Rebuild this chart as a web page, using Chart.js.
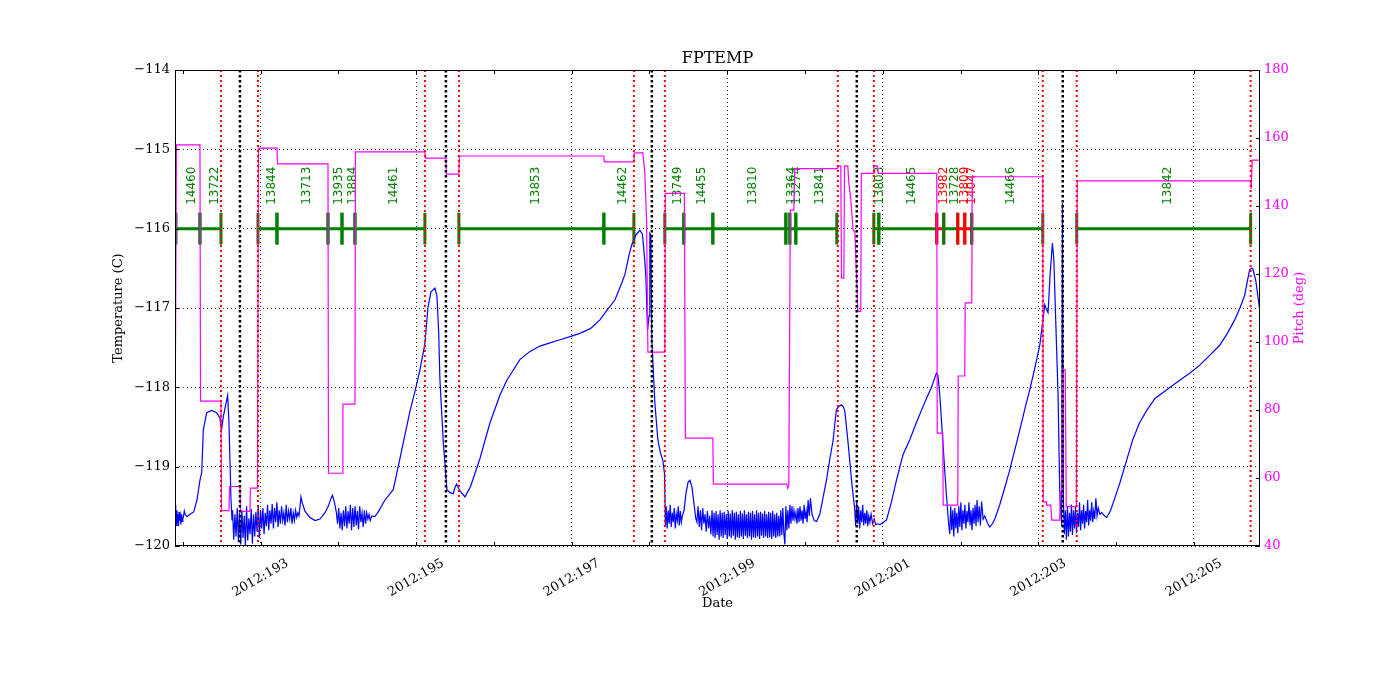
<!DOCTYPE html>
<html>
<head>
<meta charset="utf-8">
<script src="https://cdn.jsdelivr.net/npm/chart.js@4.4.0/dist/chart.umd.min.js"></script>
<style>
  html, body { margin: 0; padding: 0; background: #fff; }
</style>
</head>
<body>
<canvas id="fptemp-chart" width="1400" height="700"></canvas>
<script>
// axis ticks
const xTickDays = [193, 195, 197, 199, 201, 203, 205];
const xTickLabels = ['2012:193', '2012:195', '2012:197', '2012:199', '2012:201', '2012:203', '2012:205'];
const tempTicks = [-120, -119, -118, -117, -116, -115, -114];
const pitchTicks = [40, 60, 80, 100, 120, 140, 160, 180];

// radiation zone edges (red) and perigee times (black), day of year
const radZoneEdges = [192.491, 192.967, 195.113, 195.550, 197.800, 198.198, 200.422, 200.885, 203.057, 203.494, 205.730];
const perigeeTimes = [192.735, 195.383, 198.031, 200.666, 203.314];

// observations
const obsids = ['14460', '13722', '13844', '13713', '13935', '13884', '14461', '13853', '14462', '13749', '14455', '13810',
  '13364', '13274', '13841', '13803', '14465', '13982', '13728', '13809', '14047', '14466', '13842'];
const obsidStart = [191.913, 192.221, 192.967, 193.211, 193.867, 194.047, 194.214, 195.550, 197.414, 198.198, 198.442, 198.815,
  199.754, 199.805, 199.882, 200.885, 200.949, 201.694, 201.784, 201.964, 202.054, 202.144, 203.494];
const obsidStop = [192.221, 192.491, 193.211, 193.867, 194.047, 194.214, 195.113, 197.414, 197.800, 198.442, 198.815, 199.754,
  199.805, 199.882, 200.409, 200.949, 201.694, 201.784, 201.964, 202.054, 202.144, 203.057, 205.730];
const flaggedObsids = ['13982', '13809', '14047'];

// FPTEMP (degC) as [day, value]
const fptemp192 = [
  [191.900,-119.48],[191.906,-119.72],[191.912,-119.58],[191.918,-119.74],[191.925,-119.55],[191.932,-119.70],[191.938,-119.60],
  [191.945,-119.75],[191.952,-119.57],[191.960,-119.68],[191.968,-119.62],[191.976,-119.73],[191.985,-119.60],[191.992,-119.69],
  [192.000,-119.66],[192.010,-119.62],[192.020,-119.56],[192.030,-119.60],[192.054,-119.63],[192.093,-119.60],[192.140,-119.57],
  [192.183,-119.42],[192.221,-119.17],[192.243,-119.08],[192.264,-118.54],[192.307,-118.32],[192.372,-118.29],[192.436,-118.32],
  [192.478,-118.39],[192.498,-118.54],[192.521,-118.37],[192.577,-118.10],[192.594,-118.45],[192.620,-119.42],[192.633,-119.67]
];
const fptemp193 = [
  [192.640,-119.55],[192.655,-119.92],[192.670,-119.60],[192.685,-119.88],[192.700,-119.52],[192.715,-119.95],[192.730,-119.58],
  [192.745,-119.98],[192.760,-119.55],[192.775,-119.90],[192.790,-119.62],[192.805,-119.99],[192.820,-119.50],[192.835,-119.93],
  [192.850,-119.65],[192.865,-119.85],[192.880,-119.53],[192.895,-119.97],[192.910,-119.60],[192.925,-119.88],[192.940,-119.57],
  [192.955,-119.82],[192.970,-119.50],[192.985,-119.90],[193.000,-119.55],[193.015,-119.78],[193.030,-119.52],[193.045,-119.85],
  [193.060,-119.58],[193.075,-119.75],[193.090,-119.48],[193.105,-119.80],[193.120,-119.55],[193.135,-119.72],[193.150,-119.47],
  [193.165,-119.78],[193.180,-119.52],[193.195,-119.70],[193.210,-119.45],[193.225,-119.76],[193.240,-119.55],[193.255,-119.72],
  [193.270,-119.50],[193.285,-119.68],[193.300,-119.58],[193.315,-119.74],[193.330,-119.48],[193.345,-119.70],[193.360,-119.56],
  [193.375,-119.66],[193.390,-119.52],[193.405,-119.72],[193.420,-119.58],[193.435,-119.68],[193.450,-119.55],[193.465,-119.64],
  [193.480,-119.58],[193.495,-119.62],[193.520,-119.38],[193.535,-119.45],[193.571,-119.56],[193.635,-119.64],[193.700,-119.68],
  [193.764,-119.66],[193.828,-119.58],[193.870,-119.50],[193.905,-119.40],[193.925,-119.36],[193.950,-119.45],[193.975,-119.58]
];
const fptemp194 = [
  [193.990,-119.72],[194.005,-119.52],[194.020,-119.78],[194.035,-119.58],[194.050,-119.80],[194.065,-119.55],[194.080,-119.75],
  [194.095,-119.50],[194.110,-119.78],[194.125,-119.56],[194.140,-119.72],[194.155,-119.48],[194.170,-119.80],[194.185,-119.52],
  [194.200,-119.76],[194.215,-119.50],[194.230,-119.74],[194.245,-119.56],[194.260,-119.79],[194.275,-119.50],[194.290,-119.70],
  [194.305,-119.58],[194.320,-119.76],[194.335,-119.55],[194.350,-119.72],[194.365,-119.58],[194.380,-119.66],[194.395,-119.60],
  [194.410,-119.68],[194.430,-119.62],[194.470,-119.63],[194.513,-119.57],[194.600,-119.42],[194.706,-119.29],[194.792,-118.90],
  [194.921,-118.30],[194.998,-118.00],[195.049,-117.78],[195.113,-117.45],[195.152,-117.00],[195.190,-116.80],[195.242,-116.75],
  [195.268,-116.85],[195.290,-117.30],[195.306,-117.90],[195.350,-118.70],[195.396,-119.29],[195.440,-119.33],[195.477,-119.34],
  [195.500,-119.26],[195.521,-119.22],[195.560,-119.30],[195.628,-119.38],[195.700,-119.25],[195.820,-118.90],[195.949,-118.45],
  [196.077,-118.10],[196.167,-117.91],[196.334,-117.65],[196.460,-117.55],[196.592,-117.48],[196.720,-117.44],[196.849,-117.40],
  [196.980,-117.36],[197.106,-117.32],[197.240,-117.26],[197.363,-117.15],[197.460,-117.02],[197.556,-116.90],[197.630,-116.72],
  [197.684,-116.58],[197.740,-116.32],[197.774,-116.20],[197.825,-116.08],[197.877,-116.02],[197.910,-116.07],[197.940,-116.40],
  [197.954,-116.60],[197.975,-117.28],[197.995,-117.10],[198.005,-116.06],[198.018,-116.08],[198.030,-117.40],[198.070,-118.20],
  [198.108,-118.66],[198.140,-118.82],[198.172,-118.92],[198.195,-119.10],[198.205,-119.75]
];
const fptemp198 = [
  [198.215,-119.50],[198.228,-119.78],[198.241,-119.55],[198.254,-119.72],[198.267,-119.48],[198.280,-119.76],[198.293,-119.58],
  [198.306,-119.70],[198.319,-119.52],[198.332,-119.78],[198.345,-119.60],[198.358,-119.68],[198.371,-119.50],[198.384,-119.74],
  [198.397,-119.56],[198.410,-119.70],[198.423,-119.62],[198.445,-119.55],[198.468,-119.35],[198.495,-119.20],[198.520,-119.17],
  [198.545,-119.25],[198.571,-119.45],[198.595,-119.65],[198.610,-119.70],[198.625,-119.50],[198.640,-119.76],[198.655,-119.55],
  [198.670,-119.80],[198.685,-119.52],[198.700,-119.72],[198.715,-119.60],[198.730,-119.82],[198.745,-119.56],[198.760,-119.78],
  [198.775,-119.62],[198.790,-119.85],[198.805,-119.55],[198.818,-119.88],[198.831,-119.58],[198.844,-119.90],[198.857,-119.56],
  [198.870,-119.86],[198.883,-119.60],[198.896,-119.92],[198.909,-119.55],[198.922,-119.88],[198.935,-119.58],[198.948,-119.90],
  [198.961,-119.57],[198.974,-119.86],[198.987,-119.60],[199.000,-119.91]
];
const fptemp199 = [
  [199.013,-119.56],[199.026,-119.88],[199.039,-119.59],[199.052,-119.90],[199.065,-119.55],[199.078,-119.87],[199.091,-119.58],
  [199.104,-119.92],[199.117,-119.57],[199.130,-119.89],[199.143,-119.60],[199.156,-119.90],[199.169,-119.56],[199.182,-119.88],
  [199.195,-119.59],[199.208,-119.91],[199.221,-119.55],[199.234,-119.87],[199.247,-119.60],[199.260,-119.90],[199.273,-119.57],
  [199.286,-119.88],[199.299,-119.58],[199.312,-119.92],[199.325,-119.56],[199.338,-119.89],[199.351,-119.60],[199.364,-119.90],
  [199.377,-119.55],[199.390,-119.88],[199.403,-119.58],[199.416,-119.91],[199.429,-119.57],[199.442,-119.87],[199.455,-119.59],
  [199.468,-119.90],[199.481,-119.56],[199.494,-119.88],[199.507,-119.60],[199.520,-119.90],[199.533,-119.57],[199.546,-119.89],
  [199.559,-119.58],[199.572,-119.91],[199.585,-119.56],[199.598,-119.88],[199.611,-119.60],[199.624,-119.90],[199.637,-119.58],
  [199.650,-119.88],[199.663,-119.62],[199.676,-119.88],[199.689,-119.55],[199.702,-119.86],[199.715,-119.52],[199.728,-119.84],
  [199.741,-119.98],[199.754,-119.50],[199.767,-119.80],[199.780,-119.55],[199.793,-119.78],[199.806,-119.48],[199.819,-119.72],
  [199.832,-119.50],[199.845,-119.68],[199.858,-119.55],[199.871,-119.66],[199.884,-119.58],[199.897,-119.72],[199.910,-119.52],
  [199.923,-119.70],[199.936,-119.50],[199.949,-119.68],[199.962,-119.55],[199.975,-119.72],[199.988,-119.48],[200.001,-119.66],
  [200.014,-119.56],[200.027,-119.70],[200.040,-119.42],[200.055,-119.62],[200.070,-119.40],[200.090,-119.60],[200.120,-119.68],
  [200.148,-119.69],[200.190,-119.60],[200.230,-119.40],[200.276,-119.17],[200.320,-118.90],[200.361,-118.67],[200.390,-118.40],
  [200.405,-118.28],[200.435,-118.24],[200.469,-118.22],[200.490,-118.24],[200.512,-118.30],[200.554,-118.70],[200.598,-119.17],
  [200.640,-119.55]
];
const fptemp200 = [
  [200.652,-119.75],[200.665,-119.45],[200.678,-119.72],[200.690,-119.50],[200.703,-119.78],[200.716,-119.55],[200.729,-119.70],
  [200.742,-119.48],[200.755,-119.74],[200.768,-119.58],[200.781,-119.72],[200.794,-119.55],[200.807,-119.75],[200.820,-119.62],
  [200.835,-119.70],[200.850,-119.60],[200.870,-119.72],[200.890,-119.66],[200.910,-119.73],[200.936,-119.72],[200.962,-119.73],
  [201.000,-119.71],[201.048,-119.67],[201.110,-119.45],[201.176,-119.17],[201.260,-118.85],[201.347,-118.66],[201.430,-118.45],
  [201.518,-118.24],[201.580,-118.10],[201.626,-118.00],[201.690,-117.82],[201.710,-117.85],[201.733,-118.10],[201.771,-118.66],
  [201.800,-119.10],[201.823,-119.42],[201.845,-119.70]
];
const fptemp202 = [
  [201.861,-119.85],[201.874,-119.50],[201.887,-119.80],[201.900,-119.55],[201.913,-119.88],[201.926,-119.52],[201.939,-119.78],
  [201.952,-119.58],[201.965,-119.84],[201.978,-119.50],[201.991,-119.76],[202.004,-119.45],[202.017,-119.80],[202.030,-119.55],
  [202.043,-119.72],[202.056,-119.48],[202.069,-119.78],[202.082,-119.56],[202.095,-119.70],[202.108,-119.45],[202.121,-119.74],
  [202.134,-119.55],[202.147,-119.80],[202.160,-119.52],[202.173,-119.72],[202.186,-119.48],[202.199,-119.75],[202.212,-119.42],
  [202.225,-119.70],[202.240,-119.50],[202.255,-119.74],[202.270,-119.44],[202.290,-119.66],[202.311,-119.62],[202.350,-119.72],
  [202.376,-119.76],[202.410,-119.72],[202.440,-119.66],[202.504,-119.48],[202.570,-119.26],[202.633,-119.04],[202.700,-118.78],
  [202.761,-118.54],[202.830,-118.26],[202.890,-118.03],[202.950,-117.78],[203.018,-117.47],[203.040,-117.30],[203.083,-116.96],
  [203.105,-117.02],[203.125,-117.06],[203.150,-116.60],[203.181,-116.18],[203.200,-116.40],[203.225,-117.20],[203.253,-118.07],
  [203.275,-119.30],[203.300,-119.75],[203.310,-115.68],[203.322,-119.40]
];
const fptemp203 = [
  [203.335,-119.85],[203.348,-119.55],[203.361,-119.92],[203.374,-119.50],[203.387,-119.88],[203.400,-119.58],[203.413,-119.82],
  [203.426,-119.48],[203.439,-119.86],[203.452,-119.55],[203.465,-119.78],[203.478,-119.50],[203.491,-119.84],[203.504,-119.58],
  [203.517,-119.76],[203.530,-119.45],[203.543,-119.80],[203.556,-119.55],[203.569,-119.72],[203.582,-119.48],[203.595,-119.78],
  [203.608,-119.56],[203.621,-119.70],[203.634,-119.42],[203.647,-119.74],[203.660,-119.55],[203.673,-119.68],[203.686,-119.45],
  [203.699,-119.70],[203.712,-119.56],[203.725,-119.66],[203.740,-119.40],[203.755,-119.62],[203.770,-119.52],[203.790,-119.60],
  [203.815,-119.58],[203.850,-119.62],[203.879,-119.64],[203.930,-119.55],[203.982,-119.40],[204.050,-119.20],[204.111,-119.00],
  [204.214,-118.66],[204.300,-118.45],[204.394,-118.29],[204.500,-118.14],[204.651,-118.03],[204.818,-117.91],[204.950,-117.82],
  [205.075,-117.72],[205.200,-117.60],[205.332,-117.47],[205.430,-117.32],[205.525,-117.15],[205.600,-116.98],[205.653,-116.84],
  [205.690,-116.65],[205.717,-116.52],[205.740,-116.50],[205.756,-116.50],[205.795,-116.65],[205.846,-117.02]
];

// pitch (deg) as [day, value]
const pitch192 = [
  [191.900,68.0],[191.919,158.0],[192.221,158.0],[192.228,82.6],[192.491,82.6],[192.498,50.4],[192.594,50.4],[192.601,57.5],
  [192.735,57.5],[192.742,50.2],[192.864,50.2],[192.870,57.0],[192.960,57.0],[192.973,157.0],[193.211,157.0],[193.218,152.4],
  [193.867,152.4],[193.873,61.4],[194.053,61.4],[194.059,81.7],[194.214,81.7],[194.220,155.9]
];
const pitch195 = [
  [195.113,155.9],[195.120,154.1],[195.383,154.1],[195.390,149.4],[195.550,149.4],[195.557,154.7],[197.414,154.7],[197.420,153.0],
  [197.800,153.0],[197.806,155.6],[197.915,155.6],[197.941,149.6],[197.963,135.9],[197.980,97.0],[198.198,97.0],[198.204,143.7],
  [198.449,143.7],[198.462,71.7],[198.815,71.7],[198.822,58.2],[199.766,58.2],[199.779,57.0],[199.792,58.0],[199.811,138.8],
  [199.856,138.8],[199.869,151.0]
];
const pitch200 = [
  [200.418,151.0],[200.425,151.8],[200.460,151.8],[200.469,118.8],[200.499,118.8],[200.508,151.8],[200.550,151.8],[200.563,147.0],
  [200.589,142.0],[200.618,133.0],[200.640,132.4],[200.652,126.0],[200.679,109.0],[200.717,109.0],[200.724,149.6],[200.878,149.6],
  [200.885,151.8],[200.932,151.8],[200.942,149.6],[201.694,149.6],[201.700,73.2],[201.771,73.2],[201.777,52.0],[201.964,52.0],
  [201.970,90.0],[202.054,90.0],[202.060,111.5],[202.144,111.5],[202.150,148.6]
];
const pitch203 = [
  [203.057,148.6],[203.063,53.0],[203.102,53.0],[203.108,52.0],[203.160,52.0],[203.172,47.6],[203.275,47.6],[203.282,56.0],
  [203.301,56.0],[203.314,91.8],[203.346,91.8],[203.359,51.6],[203.488,51.6],[203.501,147.4],[205.730,147.4],[205.737,145.0],
  [205.750,153.5],[205.846,153.5]
];

const tempSeries = [].concat(fptemp192, fptemp193, fptemp194, fptemp198, fptemp199, fptemp200, fptemp202, fptemp203);
const pitchSeries = [].concat(pitch192, pitch195, pitch200, pitch203);
const toPoints = arr => arr.map(([x, y]) => ({ x, y }));

const serif = '"DejaVu Serif", serif';

const decor = {
    id: 'decor',
    beforeDatasetsDraw(chart) {
        const { ctx, chartArea: a, scales: { x, y } } = chart;
        ctx.save();
        ctx.beginPath();
        ctx.rect(a.left, a.top, a.right - a.left, a.bottom - a.top);
        ctx.clip();
        // observation bars at -116
        const yRow = y.getPixelForValue(-116);
        const yTop = y.getPixelForValue(-115.8);
        const yBot = y.getPixelForValue(-116.2);
        ctx.lineWidth = 3;
        obsids.forEach((id, i) => {
            const col = flaggedObsids.includes(id) ? '#ff0000' : '#008000';
            const x0 = x.getPixelForValue(obsidStart[i]);
            const x1 = x.getPixelForValue(obsidStop[i]);
            ctx.strokeStyle = col;
            ctx.beginPath();
            ctx.moveTo(x0, yRow); ctx.lineTo(x1, yRow);
            ctx.moveTo(x0, yTop); ctx.lineTo(x0, yBot);
            ctx.moveTo(x1, yTop); ctx.lineTo(x1, yBot);
            ctx.stroke();
        });
        // labels
        ctx.font = '12px "DejaVu Sans", sans-serif';
        ctx.textAlign = 'left';
        ctx.textBaseline = 'middle';
        const yLab = y.getPixelForValue(-115.7);
        obsids.forEach((id, i) => {
            const mid = x.getPixelForValue((obsidStart[i] + obsidStop[i]) / 2);
            ctx.save();
            ctx.translate(mid + 4, yLab);
            ctx.rotate(-Math.PI / 2);
            ctx.fillStyle = flaggedObsids.includes(id) ? '#ff0000' : '#008000';
            ctx.fillText(id, 0, 0);
            ctx.restore();
        });
        ctx.restore();
    },
    afterDatasetsDraw(chart) {
        const { ctx, chartArea: a, scales: { x, y, y1 } } = chart;
        ctx.save();
        // dotted verticals
        const vline = (d, color, w, dash) => {
            const px = x.getPixelForValue(d);
            ctx.strokeStyle = color; ctx.lineWidth = w; ctx.setLineDash(dash);
            ctx.beginPath(); ctx.moveTo(px, a.top); ctx.lineTo(px, a.bottom); ctx.stroke();
        };
        radZoneEdges.forEach(d => vline(d, '#ff0000', 2, [2, 3]));
        perigeeTimes.forEach(d => vline(d, '#000000', 2.5, [2.5, 2.5]));
        ctx.setLineDash([]);
        // frame
        ctx.strokeStyle = '#000'; ctx.lineWidth = 1;
        ctx.strokeRect(a.left + 0.5, a.top + 0.5, a.right - a.left - 1, a.bottom - a.top - 1);
        // inward ticks
        ctx.beginPath();
        for (let d = Math.ceil(x.min); d <= x.max; d++) {
            const px = Math.round(x.getPixelForValue(d)) + 0.5;
            ctx.moveTo(px, a.bottom); ctx.lineTo(px, a.bottom - 4);
            ctx.moveTo(px, a.top); ctx.lineTo(px, a.top + 4);
        }
        tempTicks.forEach(v => {
            const py = Math.round(y.getPixelForValue(v)) + 0.5;
            ctx.moveTo(a.left, py); ctx.lineTo(a.left + 4, py);
        });
        pitchTicks.forEach(v => {
            const py = Math.round(y1.getPixelForValue(v)) + 0.5;
            ctx.moveTo(a.right, py); ctx.lineTo(a.right - 4, py);
        });
        ctx.stroke();
        ctx.restore();
    },
    afterDraw(chart) {
        const { ctx, chartArea: a, scales: { x } } = chart;
        const cx = (a.left + a.right) / 2;
        const cy = (a.top + a.bottom) / 2;
        ctx.save();
        ctx.fillStyle = '#000';
        ctx.textAlign = 'center';
        ctx.font = '16px ' + serif;
        ctx.textBaseline = 'alphabetic';
        ctx.fillText('FPTEMP', cx, a.top - 7);
        ctx.font = '13px ' + serif;
        ctx.textBaseline = 'middle';
        xTickDays.forEach((d, i) => {
            ctx.save();
            ctx.translate(x.getPixelForValue(d), a.bottom + 32);
            ctx.rotate(-Math.PI / 6);
            ctx.fillText(xTickLabels[i], 0, 0);
            ctx.restore();
        });
        ctx.fillText('Date', cx, a.bottom + 58);
        ctx.save();
        ctx.translate(119, cy);
        ctx.rotate(-Math.PI / 2);
        ctx.fillText('Temperature (C)', 0, 0);
        ctx.restore();
        ctx.save();
        ctx.translate(a.right + 40, cy);
        ctx.rotate(-Math.PI / 2);
        ctx.fillStyle = '#ff00ff';
        ctx.fillText('Pitch (deg)', 0, 0);
        ctx.restore();
        ctx.restore();
    }
};

const minus = v => String(v).replace('-', '\u2212');

new Chart(document.getElementById('fptemp-chart').getContext('2d'), {
    type: 'line',
    data: {
        datasets: [{
            label: 'FPTEMP',
            data: toPoints(tempSeries),
            yAxisID: 'y',
            borderColor: '#0000ff',
            borderWidth: 1.2,
            pointRadius: 0,
            tension: 0,
            order: 2
        }, {
            label: 'Pitch',
            data: toPoints(pitchSeries),
            yAxisID: 'y1',
            borderColor: '#ff00ff',
            borderWidth: 1.2,
            pointRadius: 0,
            tension: 0,
            order: 1
        }]
    },
    options: {
        responsive: false,
        animation: false,
        devicePixelRatio: 1,
        layout: { padding: { top: 70, left: 0, right: 0, bottom: 0 } },
        plugins: { legend: { display: false }, tooltip: { enabled: false }, title: { display: false } },
        scales: {
            x: {
                type: 'linear',
                position: 'bottom',
                min: 191.90,
                max: 205.85,
                afterBuildTicks: s => { s.ticks = xTickDays.map(v => ({ value: v })); },
                ticks: { display: false },
                grid: { color: 'rgba(0,0,0,0.8)', lineWidth: 1, drawTicks: false },
                border: { display: false, dash: [1, 3] },
                afterFit: s => { s.height = 154; }
            },
            y: {
                position: 'left',
                min: -120,
                max: -114,
                afterBuildTicks: s => { s.ticks = tempTicks.map(v => ({ value: v })); },
                ticks: { color: '#000', padding: 5, font: { family: '"DejaVu Serif"', size: 13 }, callback: minus },
                grid: { color: 'rgba(0,0,0,0.8)', lineWidth: 1, drawTicks: false },
                border: { display: false, dash: [1, 3] },
                afterFit: s => { s.width = 175; }
            },
            y1: {
                position: 'right',
                min: 40,
                max: 180,
                afterBuildTicks: s => { s.ticks = pitchTicks.map(v => ({ value: v })); },
                ticks: { color: '#ff00ff', padding: 4, font: { family: '"DejaVu Serif"', size: 13 } },
                grid: { display: false, drawTicks: false },
                border: { display: false },
                afterFit: s => { s.width = 140; }
            }
        }
    },
    plugins: [decor]
});
</script>
</body>
</html>
